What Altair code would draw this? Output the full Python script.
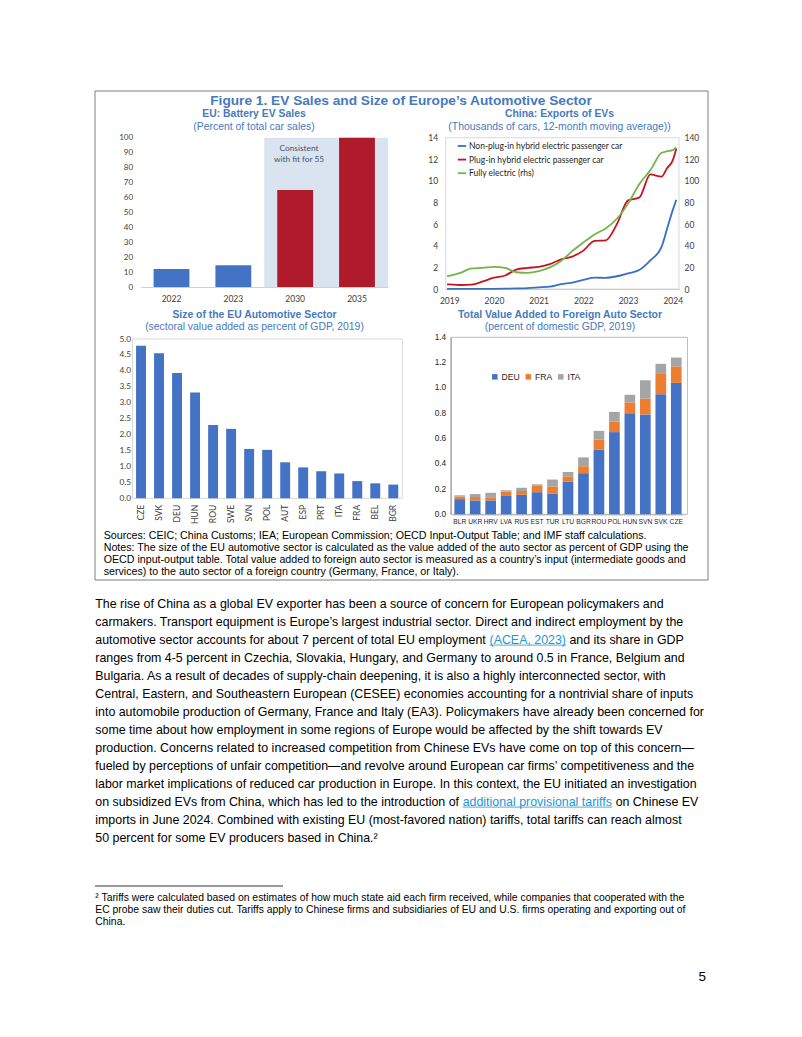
import altair as alt
import pandas as pd

# ---------------- data ----------------
ev_years = ["2022", "2023", "2030", "2035"]
ev_share = [12, 14.5, 65, 100]
ev_kind = ["Actual", "Actual", "Fit for 55", "Fit for 55"]

exp_time = [2018.95, 2019.0, 2019.25, 2019.5, 2019.75, 2020.0, 2020.25, 2020.5, 2020.75,
            2021.0, 2021.25, 2021.5, 2021.75, 2022.0, 2022.25, 2022.5, 2022.75,
            2023.0, 2023.25, 2023.5, 2023.75, 2023.875, 2024.0, 2024.08]
exp_nonplug = [0.02, 0.02, 0.02, 0.02, 0.02, 0.02, 0.03, 0.05, 0.08, 0.15, 0.22, 0.45, 0.60,
               0.85, 1.05, 1.03, 1.18, 1.45, 1.75, 2.65, 3.9, 5.6, 7.3, 8.25]
exp_plugin = [0.43, 0.42, 0.37, 0.40, 0.70, 1.05, 1.25, 1.80, 1.95, 2.05, 2.30, 2.75, 3.00,
              3.55, 4.45, 4.50, 6.00, 8.20, 8.45, 10.6, 10.4, 11.2, 11.9, 13.0]
exp_bev = [12, 12.2, 15, 19, 19.5, 20.5, 19.5, 15.5, 15, 16.5, 20, 26, 35,
           43, 50.5, 56, 65, 79, 97, 110, 126, 127.5, 128.5, 131]
exp_names = ["Non-plug-in hybrid electric passenger car",
             "Plug-in hybrid electric passenger car",
             "Fully electric (rhs)"]

size_cty = ["CZE", "SVK", "DEU", "HUN", "ROU", "SWE", "SVN", "POL", "AUT", "ESP", "PRT", "ITA", "FRA", "BEL", "BGR"]
size_val = [4.79, 4.55, 3.93, 3.32, 2.30, 2.18, 1.55, 1.52, 1.13, 0.97, 0.85, 0.78, 0.54, 0.47, 0.43]

va_cty = ["BLR", "UKR", "HRV", "LVA", "RUS", "EST", "TUR", "LTU", "BGR", "ROU", "POL", "HUN", "SVN", "SVK", "CZE"]
va_deu = [0.12, 0.11, 0.11, 0.145, 0.155, 0.175, 0.165, 0.26, 0.325, 0.51, 0.65, 0.80, 0.79, 0.95, 1.04]
va_fra = [0.02, 0.027, 0.02, 0.035, 0.03, 0.05, 0.055, 0.04, 0.055, 0.08, 0.085, 0.085, 0.125, 0.16, 0.13]
va_ita = [0.01, 0.023, 0.04, 0.01, 0.025, 0.012, 0.055, 0.035, 0.07, 0.07, 0.075, 0.06, 0.145, 0.08, 0.07]
va_src = ["DEU", "FRA", "ITA"]

fig_title = "Figure 1. EV Sales and Size of Europe’s Automotive Sector"
p1_title = ["EU: Battery EV Sales", "(Percent of total car sales)"]
p2_title = ["China: Exports of EVs", "(Thousands of cars, 12-month moving average))"]
p3_title = ["Size of the EU Automotive Sector", "(sectoral value added as percent of GDP, 2019)"]
p4_title = ["Total Value Added to Foreign Auto Sector", "(percent of domestic GDP, 2019)"]
shade_note = ["Consistent", "with fit for 55"]

notes_lines = [
    "Sources: CEIC; China Customs; IEA; European Commission; OECD Input-Output Table; and IMF staff calculations.",
    "Notes: The size of the EU automotive sector is calculated as the value added of the auto sector as percent of GDP using the",
    "OECD input-output table. Total value added to foreign auto sector is measured as a country’s input (intermediate goods and",
    "services) to the auto sector of a foreign country (Germany, France, or Italy).",
]
body_lines = [
    "The rise of China as a global EV exporter has been a source of concern for European policymakers and",
    "carmakers. Transport equipment is Europe’s largest industrial sector. Direct and indirect employment by the",
    ["automotive sector accounts for about 7 percent of total EU employment", "(ACEA, 2023)", "and its share in GDP"],
    "ranges from 4-5 percent in Czechia, Slovakia, Hungary, and Germany to around 0.5 in France, Belgium and",
    "Bulgaria. As a result of decades of supply-chain deepening, it is also a highly interconnected sector, with",
    "Central, Eastern, and Southeastern European (CESEE) economies accounting for a nontrivial share of inputs",
    "into automobile production of Germany, France and Italy (EA3). Policymakers have already been concerned for",
    "some time about how employment in some regions of Europe would be affected by the shift towards EV",
    "production. Concerns related to increased competition from Chinese EVs have come on top of this concern—",
    "fueled by perceptions of unfair competition—and revolve around European car firms’ competitiveness and the",
    "labor market implications of reduced car production in Europe. In this context, the EU initiated an investigation",
    ["on subsidized EVs from China, which has led to the introduction of", "additional provisional tariffs", "on Chinese EV"],
    "imports in June 2024. Combined with existing EU (most-favored nation) tariffs, total tariffs can reach almost",
    "50 percent for some EV producers based in China.²",
]
foot_lines = [
    "² Tariffs were calculated based on estimates of how much state aid each firm received, while companies that cooperated with the",
    "EC probe saw their duties cut. Tariffs apply to Chinese firms and subsidiaries of EU and U.S. firms operating and exporting out of",
    "China.",
]
page_no = "5"

# ---------------- layout helpers ----------------
W, H = 786, 1015


def cx(X):
    return X - 8


def cy(Y):
    return Y - 8


_AW = {}
for chars, w in [(" !,./:;I[\\]ft", 278), ("\"", 355), ("#$0123456789?L_abdeghnopqu–", 556),
                 ("%", 889), ("&ABEKPSVXY", 667), ("'", 191), ("()-`r²", 333), ("*", 389),
                 ("+<=>~", 584), ("@", 1015), ("CDHNRUw", 722), ("FTZ", 611), ("GOQ", 778),
                 ("J", 500), ("M", 833), ("W", 944), ("^", 469), ("ckvsxyz", 500), ("ijl’", 222),
                 ("m", 833), ("{}", 334), ("|", 260), ("—", 1000)]:
    for ch in chars:
        _AW[ch] = w


def em(s):
    return sum(_AW.get(ch, 556) for ch in s) / 1000.0


BLUE = "#4472C4"
RED_BAR = "#B01B2C"
L_BLUE = "#3A70C0"
L_RED = "#C3151F"
L_GREEN = "#74B446"
ORANGE = "#ED7D31"
GREY = "#A5A5A5"
TITLE_C = "#4779BD"
SHADE = "#DAE3F0"
LAB_C = "#404040"
LINK_C = "#1E96D3"
ARIAL = "Liberation Sans"


def ax(orient, offset, **kw):
    base = dict(orient=orient, offset=offset, title=None, grid=False, ticks=False, tickSize=0,
                domain=False, labelFont="Lato", labelFontSize=8.5, labelColor=LAB_C,
                labelPadding=4, labelOverlap=False)
    base.update(kw)
    return alt.Axis(**base)


def label(text, X, Y, size, color="black", weight="normal", align="center", font=ARIAL):
    return alt.Chart(pd.DataFrame({"t": [text]})).mark_text(
        align=align, baseline="middle", font=font, fontSize=size, fontWeight=weight, color=color
    ).encode(x=alt.value(cx(X)), y=alt.value(cy(Y)), text="t:N")


def block(lines, X, Y0, dy, size, color="black", align="left", font=ARIAL, weight="normal"):
    n = len(lines)
    m = max(n - 1, 1)
    df = pd.DataFrame({"i": list(range(n)), "t": lines})
    return alt.Chart(df).mark_text(
        align=align, baseline="middle", font=font, fontSize=size, fontWeight=weight, color=color
    ).encode(
        x=alt.value(cx(X)),
        y=alt.Y("i:Q", scale=alt.Scale(domain=[0, m], range=[cy(Y0), cy(Y0 + dy * m)], nice=False, zero=False), axis=None),
        text="t:N",
    )


def frame(X0, Y0, X1, Y1, color, width=1.0):
    return alt.Chart(pd.DataFrame({"k": [0]})).mark_rect(fillOpacity=0, stroke=color, strokeWidth=width).encode(
        x=alt.value(cx(X0)), x2=alt.value(cx(X1)), y=alt.value(cy(Y0)), y2=alt.value(cy(Y1)))


def hline(X0, X1, Y, color, width=1.0):
    return alt.Chart(pd.DataFrame({"k": [0]})).mark_rule(color=color, strokeWidth=width).encode(
        x=alt.value(cx(X0)), x2=alt.value(cx(X1)), y=alt.value(cy(Y)))


layers = []

# ---------------- figure box & titles ----------------
layers.append(frame(95, 91, 708, 580, "#7F7F7F"))
layers.append(label(fig_title, 401, 101, 13.7, TITLE_C, "bold"))
for (t, s), Xc, Yt in [(p1_title, 254, 114.3), (p2_title, 559.5, 114.3), (p3_title, 254.5, 315), (p4_title, 560, 315)]:
    layers.append(label(t, Xc, Yt, 10.4, TITLE_C, "bold"))
    layers.append(label(s, Xc, Yt + 12.2, 10.4, TITLE_C))

# ---------------- panel 1: EU battery EV sales ----------------
p1x = [cx(140.6), cx(387.9)]
p1y = [cy(287), cy(137.7)]
shade_df = pd.DataFrame({"a": [ev_years.index("2030")], "b": [len(ev_years)], "lo": [0], "hi": [100]})
layers.append(alt.Chart(shade_df).mark_rect(color=SHADE).encode(
    x=alt.X("a:Q", scale=alt.Scale(domain=[0, len(ev_years)], range=p1x, nice=False, zero=False), axis=None),
    x2="b:Q",
    y=alt.Y("lo:Q", scale=alt.Scale(domain=[0, 100], range=p1y, nice=False), axis=None),
    y2="hi:Q"))
df1 = pd.DataFrame({"year": ev_years, "share": ev_share, "kind": ev_kind})
layers.append(alt.Chart(df1).mark_bar().encode(
    x=alt.X("year:N", sort=None,
            scale=alt.Scale(domain=ev_years, range=p1x, paddingInner=0.42, paddingOuter=0.21),
            axis=ax("bottom", cy(287) - H, labelAngle=0, labelPadding=7, domain=True,
                    domainColor="#D0D0D0", labelFontSize=8.5)),
    y=alt.Y("share:Q", scale=alt.Scale(domain=[0, 100], range=p1y, nice=False),
            axis=ax("left", -cx(140.6), values=list(range(0, 101, 10)), labelPadding=8, labelFontSize=8)),
    color=alt.Color("kind:N", scale=alt.Scale(domain=["Actual", "Fit for 55"], range=[BLUE, RED_BAR]), legend=None)))
layers.append(block(shade_note, 299, 149.3, 11, 8.3, "#44546A", align="center", font="Lato"))

# ---------------- panel 2: China exports of EVs ----------------
p2x = alt.Scale(domain=[2018.92, 2024.14], range=[cx(445.7), cx(679)], nice=False, zero=False)
p2yl = [0, 14]
p2yr = [0, 140]
p2r = [cy(289), cy(137.7)]
layers.append(frame(445.7, 137.7, 679, 289, "#D9D9D9"))
df2 = pd.DataFrame({
    "t": exp_time * 2,
    "v": exp_nonplug + exp_plugin,
    "s": [exp_names[0]] * len(exp_time) + [exp_names[1]] * len(exp_time),
})
layers.append(alt.Chart(df2).mark_line(strokeWidth=1.8, interpolate="monotone").encode(
    x=alt.X("t:Q", scale=p2x,
            axis=ax("bottom", cy(289) - H, values=[2019, 2020, 2021, 2022, 2023, 2024], format="d",
                    labelFlush=False, labelPadding=7, domain=True, domainColor="#BFBFBF")),
    y=alt.Y("v:Q", scale=alt.Scale(domain=p2yl, range=p2r, nice=False),
            axis=ax("left", -cx(445.7), values=list(range(0, 15, 2)), labelPadding=8)),
    color=alt.Color("s:N", scale=alt.Scale(domain=exp_names, range=[L_BLUE, L_RED, L_GREEN]),
                    legend=alt.Legend(orient="none", legendX=cx(456.5), legendY=cy(140.5), title=None,
                                      symbolType="stroke", symbolSize=70, symbolStrokeWidth=1.8,
                                      labelFont="Lato", labelFontSize=8.5, labelColor="#262626",
                                      labelOffset=1.5, rowPadding=3.6, padding=0))))
df2b = pd.DataFrame({"t": exp_time, "v": exp_bev})
layers.append(alt.Chart(df2b).mark_line(strokeWidth=1.8, interpolate="monotone", color=L_GREEN).encode(
    x=alt.X("t:Q", scale=p2x, axis=None),
    y=alt.Y("v:Q", scale=alt.Scale(domain=p2yr, range=p2r, nice=False),
            axis=ax("right", cx(679) - W, values=list(range(0, 141, 20)), labelPadding=5))))

# ---------------- panel 3: size of EU automotive sector ----------------
layers.append(frame(132.5, 339, 402.3, 498.3, "#D9D9D9"))
df3 = pd.DataFrame({"c": size_cty, "v": size_val})
layers.append(alt.Chart(df3).mark_bar(color=BLUE).encode(
    x=alt.X("c:N", sort=None,
            scale=alt.Scale(domain=size_cty, range=[cx(132), cx(402.3)], paddingInner=0.45, paddingOuter=0.225),
            axis=ax("bottom", cy(498.3) - H, labelAngle=-90, labelPadding=6, labelFontSize=8.5)),
    y=alt.Y("v:Q", scale=alt.Scale(domain=[0, 5], range=[cy(498.3), cy(339)], nice=False),
            axis=ax("left", -cx(132.5), values=[i / 2 for i in range(11)], format=".1f",
                    labelPadding=2, labelFontSize=8.3))))

# ---------------- panel 4: value added to foreign auto sector ----------------
layers.append(frame(450.7, 337.3, 687.5, 514.3, "#BFBFBF"))
df4 = pd.DataFrame({
    "c": va_cty * 3,
    "src": ["DEU"] * len(va_cty) + ["FRA"] * len(va_cty) + ["ITA"] * len(va_cty),
    "v": va_deu + va_fra + va_ita,
    "o": [0] * len(va_cty) + [1] * len(va_cty) + [2] * len(va_cty),
})
layers.append(alt.Chart(df4).mark_bar().encode(
    x=alt.X("c:N", sort=None,
            scale=alt.Scale(domain=va_cty, range=[cx(452), cx(684)], paddingInner=0.31, paddingOuter=0.155),
            axis=ax("bottom", cy(514.3) - H, labelAngle=0, labelPadding=4, labelFont=ARIAL,
                    labelFontSize=6.7, labelColor="#262626", domain=True, domainColor="#8C8C8C")),
    y=alt.Y("v:Q", stack="zero", scale=alt.Scale(domain=[0, 1.4], range=[cy(514.3), cy(337.3)], nice=False),
            axis=ax("left", -cx(450.7), values=[i / 5 for i in range(8)], format=".1f", labelPadding=5,
                    labelFont=ARIAL, labelFontSize=8.3, labelColor="#262626", domain=True, domainColor="#8C8C8C")),
    color=alt.Color("src:N", scale=alt.Scale(domain=va_src, range=[BLUE, ORANGE, GREY]),
                    legend=alt.Legend(orient="none", legendX=cx(490.5), legendY=cy(372.5), title=None,
                                      direction="horizontal", symbolType="square", symbolSize=30,
                                      symbolStrokeWidth=0, labelFont=ARIAL, labelFontSize=8.6,
                                      labelColor="#262626", labelOffset=2.5, columnPadding=3.5, padding=0)),
    order=alt.Order("o:Q")))

# ---------------- notes inside the figure box ----------------
fs_notes = (689.3 - 103.7) / em(notes_lines[1])
layers.append(block(notes_lines, 103.7, 536, 12, fs_notes))

# ---------------- body text ----------------
FS = 12.4
BX, BY0, BDY = 95.3, 603.5, 18.0
plain = [ln if isinstance(ln, str) else ln[0] for ln in body_lines]
layers.append(block(plain, BX, BY0, BDY, FS))
for i, ln in enumerate(body_lines):
    if isinstance(ln, str):
        continue
    pre, link, post = ln
    Y = BY0 + BDY * i
    x_link = BX + em(pre + " ") * FS
    x_post = x_link + em(link + " ") * FS
    layers.append(label(link, x_link, Y, FS, LINK_C, align="left"))
    layers.append(hline(x_link, x_link + em(link) * FS, Y + 5.6, LINK_C, 0.8))
    layers.append(label(post, x_post, Y, FS, "black", align="left"))

# ---------------- footnote & page number ----------------
layers.append(hline(95, 283, 886, "black", 0.8))
fs_foot = (687.3 - 95.3) / em(foot_lines[1])
layers.append(block(foot_lines, 95.3, 898, 12, fs_foot))
layers.append(label(page_no, 706, 977, 13.5, "black", align="right"))

chart = alt.layer(*layers).resolve_scale(
    x="independent", y="independent", color="independent"
).resolve_axis(x="independent", y="independent").resolve_legend(color="independent").properties(
    width=W, height=H, padding=0, autosize=alt.AutoSizeParams(type="none"), background="white"
).configure_view(strokeWidth=0)

chart.save("out.html", embed_options={"renderer": "svg", "actions": False})
